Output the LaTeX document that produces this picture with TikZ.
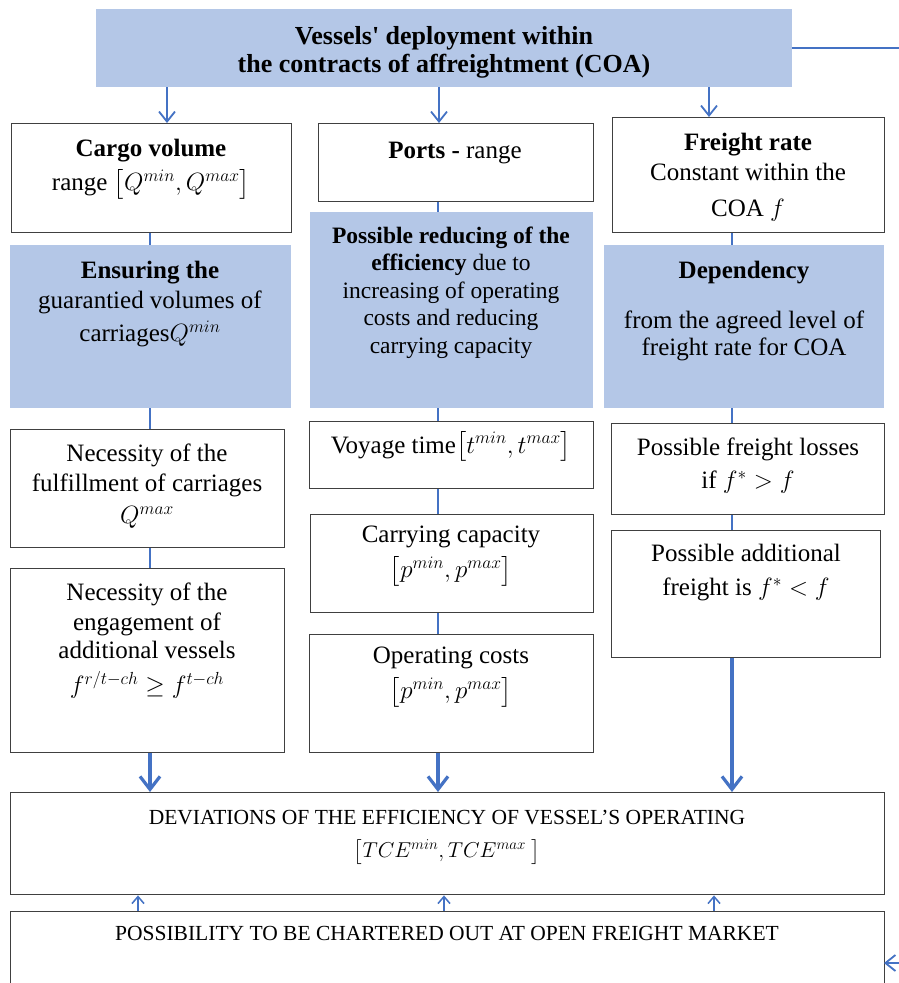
\RequirePackage{fix-cm}
\documentclass[tikz,border=0pt]{standalone}
\usepackage{exscale}
\usepackage{amsmath}
\usepackage{fontspec}
\setmainfont{Liberation Serif}
\usetikzlibrary{arrows.meta}
\definecolor{bfill}{RGB}{180,199,231}
\definecolor{cblue}{RGB}{68,114,196}
\definecolor{bord}{RGB}{64,64,64}
\tikzset{
  bx/.style={draw=bord, line width=1.4pt, fill=white, inner sep=0pt, anchor=north west},
  bl/.style={fill=bfill, inner sep=0pt, anchor=north west},
  tx/.style={align=center, inner sep=0pt, anchor=north, font=\fontsize{25}{30}\selectfont},
  conn/.style={draw=cblue, line width=2.5pt},
  arr/.style={draw=cblue, line width=1.8pt, -{Straight Barb[length=10pt,width=16pt]}},
  uarr/.style={draw=cblue, line width=1.5pt, -{Straight Barb[length=7pt,width=12pt]}},
  tharr/.style={draw=cblue, line width=3.2pt, -{Straight Barb[length=13pt,width=20pt]}}
}
\begin{document}
\begin{tikzpicture}[x=1pt,y=-1pt]
\useasboundingbox (0,0) rectangle (899,983);
\clip (0,0) rectangle (899,983);
\fill[white] (0,0) rectangle (899,983);
% boxes
\node[bl, minimum width=696pt, minimum height=78pt] (coa) at (96,9) {};
\node[bx, minimum width=280pt, minimum height=109pt] (cargo) at (11,123) {};
\node[bx, minimum width=275pt, minimum height=78pt] (ports) at (318,123) {};
\node[bx, minimum width=272pt, minimum height=115pt] (freight) at (612,117) {};
\node[bl, minimum width=281pt, minimum height=163pt] (blueA) at (10,245) {};
\node[bl, minimum width=283pt, minimum height=196pt] (blueB) at (310,212) {};
\node[bl, minimum width=280pt, minimum height=163pt] (blueC) at (604,245) {};
\node[bx, minimum width=274pt, minimum height=118pt] (necA) at (10,429) {};
\node[bx, minimum width=274pt, minimum height=184pt] (necB) at (10,568) {};
\node[bx, minimum width=284pt, minimum height=67pt] (voyage) at (309,421) {};
\node[bx, minimum width=283pt, minimum height=98pt] (carry) at (310,514) {};
\node[bx, minimum width=284pt, minimum height=118pt] (opcost) at (309,634) {};
\node[bx, minimum width=273pt, minimum height=91pt] (loss) at (611,423) {};
\node[bx, minimum width=269pt, minimum height=127pt] (addl) at (611,530) {};
\node[bx, minimum width=874pt, minimum height=102pt] (dev) at (10,792) {};
\node[bx, minimum width=874pt, minimum height=95pt] (poss) at (10,911) {};
% texts
\node[tx, font=\fontsize{26}{28}\selectfont\bfseries] (coaT) at (444,26) {Vessels\textquotesingle{} deployment within\\the contracts of affreightment (COA)};
\node[tx] (cargoT) at (151,139) {\textbf{Cargo volume}\\[4pt]range $\bigl[Q^{min},Q^{max}\bigr]$};
\node[tx, anchor=base] (portsT) at (455,158.5) {\textbf{Ports -} range};
\node[tx] (freightT) at (748,133) {\textbf{Freight rate}\\Constant within the\\[6pt]COA $f$};
\node[tx] (blueAT) at (150,261) {\textbf{Ensuring the}\\guarantied volumes of\\[3pt]carriages$Q^{min}$};
\node[tx, font=\fontsize{23.5}{27.5}\selectfont] (blueBT) at (451,226.5) {\textbf{Possible reducing of the}\\\textbf{efficiency} due to\\increasing of operating\\costs and reducing\\carrying capacity};
\node[tx, font=\fontsize{25}{27}\selectfont] (blueCT) at (744,261) {\textbf{Dependency}\\[23pt]from the agreed level of\\freight rate for COA};
\node[tx] (necAT) at (147,444) {Necessity of the\\fulfillment of carriages\\[2pt]$Q^{max}$};
\node[tx] (necBT) at (147,583) {Necessity of the\\engagement of\\[-2pt]additional vessels\\[5pt]$f^{r/t-ch}\geq f^{t-ch}$};
\node[tx, anchor=base] (voyageT) at (451,453) {Voyage time$\bigl[t^{min},t^{max}\bigr]$};
\node[tx] (carryT) at (451,526) {Carrying capacity\\[5pt]$\bigl[p^{min},p^{max}\bigr]$};
\node[tx] (opcostT) at (451,647) {Operating costs\\[5pt]$\bigl[p^{min},p^{max}\bigr]$};
\node[tx] (lossT) at (748,438) {Possible freight losses\\[3pt]if $f^{*}>f$};
\node[tx] (addlT) at (746,544) {Possible additional\\[4pt]freight is $f^{*}<f$};
\node[tx, font=\fontsize{21.5}{30}\selectfont] (devT) at (447,809.5) {DEVIATIONS OF THE EFFICIENCY OF VESSEL’S OPERATING\\[3pt]$\bigl[TCE^{min},TCE^{max}\ \bigr]$};
\node[tx, anchor=base, font=\fontsize{21.5}{30}\selectfont] (possT) at (447,940.5) {POSSIBILITY TO BE CHARTERED OUT AT OPEN FREIGHT MARKET};
% coordinates for connector columns
\coordinate (aA) at (167,0);
\coordinate (aB) at (439,0);
\coordinate (aC) at (709,0);
\coordinate (cA) at (150,0);
\coordinate (cB) at (438,0);
\coordinate (cC) at (732,0);
\coordinate (uA) at (138,0);
\coordinate (uB) at (444,0);
\coordinate (uC) at (714,0);
\coordinate (rc) at (915,0);
\coordinate (pin) at (884,963);
% top arrows
\draw[arr] (coa.south -| aA) -- (cargo.north -| aA);
\draw[arr] (coa.south -| aB) -- (ports.north -| aB);
\draw[arr] (coa.south -| aC) -- (freight.north -| aC);
% column links
\draw[conn] (cargo.south -| cA) -- (blueA.north -| cA);
\draw[conn] (blueA.south -| cA) -- (necA.north -| cA);
\draw[conn] (necA.south -| cA) -- (necB.north -| cA);
\draw[conn] (ports.south -| cB) -- (blueB.north -| cB);
\draw[conn] (blueB.south -| cB) -- (voyage.north -| cB);
\draw[conn] (voyage.south -| cB) -- (carry.north -| cB);
\draw[conn] (carry.south -| cB) -- (opcost.north -| cB);
\draw[conn] (freight.south -| cC) -- (blueC.north -| cC);
\draw[conn] (blueC.south -| cC) -- (loss.north -| cC);
\draw[conn] (loss.south -| cC) -- (addl.north -| cC);
% thick arrows to deviations
\draw[tharr] (necB.south -| cA) -- (dev.north -| cA);
\draw[tharr] (opcost.south -| cB) -- (dev.north -| cB);
\draw[tharr] (addl.south -| cC) -- (dev.north -| cC);
% up arrows
\draw[uarr] (poss.north -| uA) -- (dev.south -| uA);
\draw[uarr] (poss.north -| uB) -- (dev.south -| uB);
\draw[uarr] (poss.north -| uC) -- (dev.south -| uC);
% loop on the right
\draw[arr] (coa.east) -| (rc |- pin) -- (pin);
\end{tikzpicture}
\end{document}
